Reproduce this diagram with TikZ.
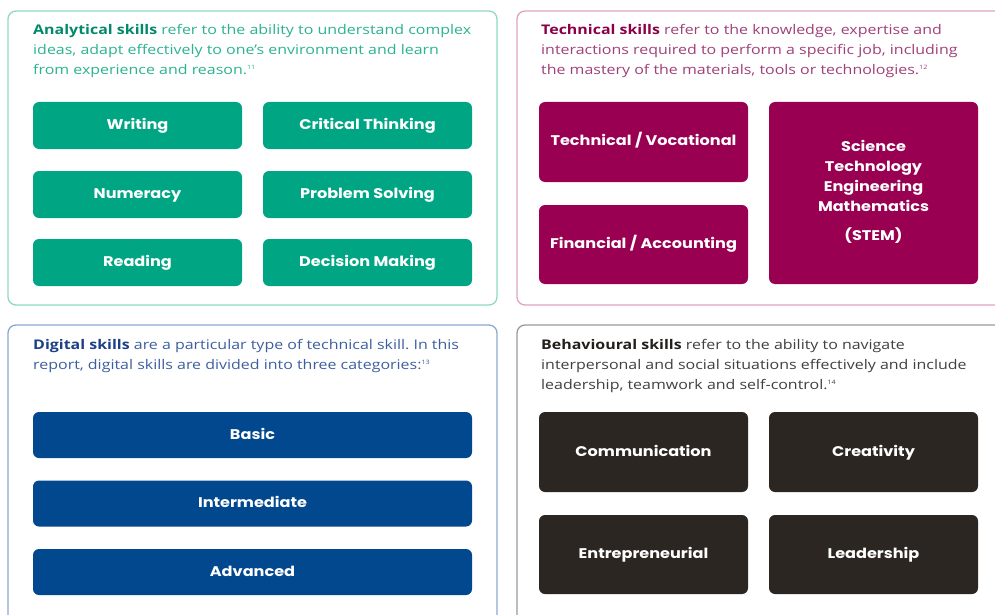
\documentclass[tikz,border=0pt]{standalone}
\usepackage{fontspec}
\setmainfont{Open Sans}[FakeStretch=1.2]
\newfontfamily\boxfont{Poppins}[FakeStretch=1.15]
\usepackage{xcolor}
\frenchspacing
\newcommand{\boxw}{209pt}
\newcommand{\footmark}[1]{\textsuperscript{\fontsize{6}{6}\selectfont #1}}
\definecolor{anabox}{HTML}{00A684}
\definecolor{anaborder}{HTML}{8FD9C4}
\definecolor{anatext}{HTML}{2BB38F}
\definecolor{anatitle}{HTML}{00896B}
\definecolor{techbox}{HTML}{990052}
\definecolor{techborder}{HTML}{DFA3C2}
\definecolor{techtext}{HTML}{A0407A}
\definecolor{techtitle}{HTML}{8A0049}
\definecolor{digbox}{HTML}{02488E}
\definecolor{digborder}{HTML}{8CA8D2}
\definecolor{digtext}{HTML}{3D5FA0}
\definecolor{digtitle}{HTML}{1C3F85}
\definecolor{behbox}{HTML}{2C2622}
\definecolor{behborder}{HTML}{9A9A9A}
\definecolor{behtext}{HTML}{404040}
\definecolor{behtitle}{HTML}{231F1C}
\tikzset{
  panel/.style={line width=1.3pt, rounded corners=8pt},
  skillbox/.style={rounded corners=6pt, text=white, inner sep=0pt, align=center,
    minimum width=\boxw, font=\boxfont\bfseries\fontsize{14}{20}\selectfont,
    execute at begin node=\strut},
  blurb/.style={anchor=north west, inner sep=0pt, align=left,
    font=\fontsize{13.3}{20}\selectfont},
}
\begin{document}
\begin{tikzpicture}[x=1pt, y=-1pt]
  \useasboundingbox (0,0) rectangle (995,615);
  \clip (0,0) rectangle (995,615);
  \fill[white] (0,0) rectangle (995,615);

  % === ANALYTICAL ===
  \draw[panel, anaborder] (8,11) rectangle (497,305);
  \node[blurb, text=anatext] (anablurb) at (33,24)
    {\textcolor{anatitle}{\textbf{Analytical skills}} refer to the ability to understand complex\\
     ideas, adapt effectively to one's environment and learn\\
     from experience and reason.\footmark{11}};
  \node[skillbox, fill=anabox, minimum height=47pt] (writing) at (137.5,125.5) {Writing};
  \node[skillbox, fill=anabox, minimum height=47pt] (critical) at (367.5,125.5) {Critical Thinking};
  \node[skillbox, fill=anabox, minimum height=47pt] (numeracy) at (137.5,194.5) {Numeracy};
  \node[skillbox, fill=anabox, minimum height=47pt] (problem) at (367.5,194.5) {Problem Solving};
  \node[skillbox, fill=anabox, minimum height=47pt] (reading) at (137.5,262.5) {Reading};
  \node[skillbox, fill=anabox, minimum height=47pt] (decision) at (367.5,262.5) {Decision Making};

  % === TECHNICAL ===
  \draw[panel, techborder] (517,11) rectangle (1010,305);
  \node[blurb, text=techtext] (techblurb) at (541,24)
    {\textcolor{techtitle}{\textbf{Technical skills}} refer to the knowledge, expertise and\\
     interactions required to perform a specific job, including\\
     the mastery of the materials, tools or technologies.\footmark{12}};
  \node[skillbox, fill=techbox, minimum height=80pt] (vocational) at (643.5,142) {Technical / Vocational};
  \node[skillbox, fill=techbox, minimum height=79pt] (financial) at (643.5,244.5) {Financial / Accounting};
  \node[skillbox, fill=techbox, minimum height=182pt] (stem) at (873.5,193)
    {Science\\ Technology\\ Engineering\\ Mathematics\\[9pt] (STEM)};

  % === DIGITAL ===
  \draw[panel, digborder] (8,325) rectangle (497,640);
  \node[blurb, text=digtext] (digblurb) at (33,339)
    {\textcolor{digtitle}{\textbf{Digital skills}} are a particular type of technical skill. In this\\
     report, digital skills are divided into three categories:\footmark{13}};
  \node[skillbox, fill=digbox, minimum width=439pt, minimum height=46pt] (basic) at (252.5,435) {Basic};
  \node[skillbox, fill=digbox, minimum width=439pt, minimum height=46pt] (intermediate) at (252.5,503.5) {Intermediate};
  \node[skillbox, fill=digbox, minimum width=439pt, minimum height=46pt] (advanced) at (252.5,572) {Advanced};

  % === BEHAVIOURAL ===
  \draw[panel, behborder] (517,325) rectangle (1010,640);
  \node[blurb, text=behtext] (behblurb) at (541,339)
    {\textcolor{behtitle}{\textbf{Behavioural skills}} refer to the ability to navigate\\
     interpersonal and social situations effectively and include\\
     leadership, teamwork and self-control.\footmark{14}};
  \node[skillbox, fill=behbox, minimum height=80pt] (communication) at (643.5,452) {Communication};
  \node[skillbox, fill=behbox, minimum height=80pt] (creativity) at (873.5,452) {Creativity};
  \node[skillbox, fill=behbox, minimum height=79pt] (entrepreneurial) at (643.5,554.5) {Entrepreneurial};
  \node[skillbox, fill=behbox, minimum height=79pt] (leadership) at (873.5,554.5) {Leadership};
\end{tikzpicture}
\end{document}
